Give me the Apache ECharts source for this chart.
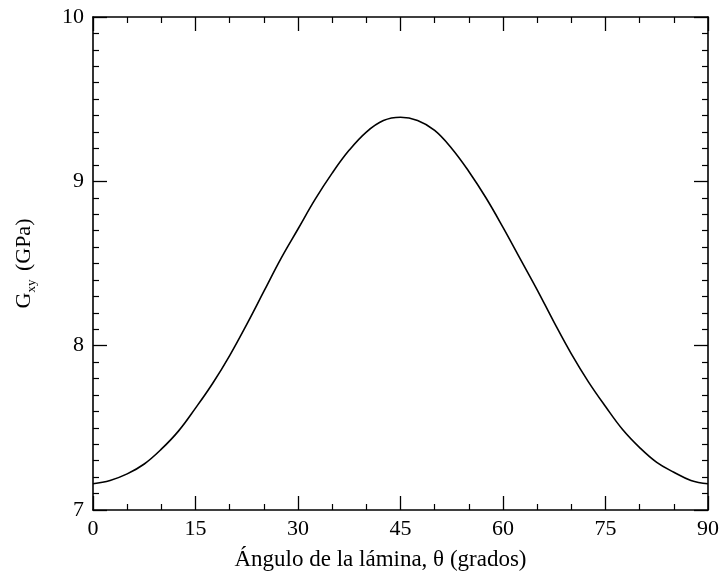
<!DOCTYPE html>
<html>
<head>
<meta charset="utf-8">
<script src="https://cdn.jsdelivr.net/npm/echarts@6/dist/echarts.min.js"></script>
<style>html,body{margin:0;padding:0;background:#fff;}#c{width:722px;height:576px;}</style>
</head>
<body>
<div id="c"></div>
<script>
var angles = [0, 2.5, 5, 7.5, 10, 12.5, 15, 17.5, 20, 22.5, 25, 27.5, 30, 32.5, 35, 37.5, 40, 42.5, 45,
              47.5, 50, 52.5, 55, 57.5, 60, 62.5, 65, 67.5, 70, 72.5, 75, 77.5, 80, 82.5, 85, 87.5, 90];
var gxy = [7.16, 7.18, 7.22, 7.28, 7.37, 7.48, 7.62, 7.77, 7.94, 8.13, 8.33, 8.53, 8.71, 8.89, 9.05, 9.19, 9.30, 9.37, 9.39,
           9.37, 9.31, 9.20, 9.06, 8.90, 8.72, 8.53, 8.34, 8.14, 7.95, 7.78, 7.63, 7.49, 7.38, 7.29, 7.23, 7.18, 7.16];
var xTicks = [0, 15, 30, 45, 60, 75, 90];
var yTicks = [7, 8, 9, 10];

var font = '"Liberation Serif", "Times New Roman", serif';
var data = angles.map(function (a, i) { return [a, gxy[i]]; });

var axisCommon = {
  axisLine: { show: true, onZero: false, lineStyle: { color: '#000', width: 1.6 } },
  axisTick: { show: true, inside: true, length: 14, lineStyle: { color: '#000', width: 1.3 } },
  minorTick: { show: true, length: 6, lineStyle: { color: '#000', width: 1.2 } },
  splitLine: { show: false }
};

var chart = echarts.init(document.getElementById('c'));
chart.setOption({
  animation: false,
  backgroundColor: '#fff',
  grid: { left: 93, right: 12, top: 17, bottom: 64 },
  xAxis: [
    Object.assign({}, axisCommon, {
      type: 'value', min: 0, max: 90, interval: 15, position: 'bottom',
      minorTick: Object.assign({}, axisCommon.minorTick, { splitNumber: 3 }),
      axisLabel: { color: '#000', fontFamily: font, fontSize: 22, margin: 8,
        formatter: function (v) { return xTicks.indexOf(v) >= 0 ? String(v) : ''; } },
      name: 'Ángulo de la lámina, θ (grados)', nameLocation: 'middle', nameGap: 38,
      nameTextStyle: { color: '#000', fontFamily: font, fontSize: 23, padding: [0, 40, 0, 0] }
    }),
    Object.assign({}, axisCommon, {
      type: 'value', min: 0, max: 90, interval: 15, position: 'top',
      minorTick: Object.assign({}, axisCommon.minorTick, { splitNumber: 3 }),
      axisLabel: { show: false }
    })
  ],
  yAxis: [
    Object.assign({}, axisCommon, {
      type: 'value', min: 7, max: 10, interval: 1, position: 'left',
      minorTick: Object.assign({}, axisCommon.minorTick, { splitNumber: 10 }),
      axisLabel: { color: '#000', fontFamily: font, fontSize: 22, margin: 9,
        formatter: function (v) { return yTicks.indexOf(v) >= 0 ? String(v) : ''; } },
      name: '{g|G}{s|xy}{g| (GPa)}', nameLocation: 'middle', nameGap: 55, nameRotate: 90,
      nameTextStyle: {
        color: '#000', fontFamily: font, fontSize: 22,
        rich: {
          g: { fontFamily: font, fontSize: 22, color: '#000', lineHeight: 28, verticalAlign: 'middle' },
          s: { fontFamily: font, fontSize: 13, color: '#000', lineHeight: 28, verticalAlign: 'bottom', padding: [0, 3, 0, 0] }
        }
      }
    }),
    Object.assign({}, axisCommon, {
      type: 'value', min: 7, max: 10, interval: 1, position: 'right',
      minorTick: Object.assign({}, axisCommon.minorTick, { splitNumber: 10 }),
      axisLabel: { show: false }
    })
  ],
  series: [{
    type: 'line', data: data, smooth: 0.4, symbol: 'none',
    lineStyle: { color: '#000', width: 1.6 }
  }]
});
</script>
</body>
</html>
